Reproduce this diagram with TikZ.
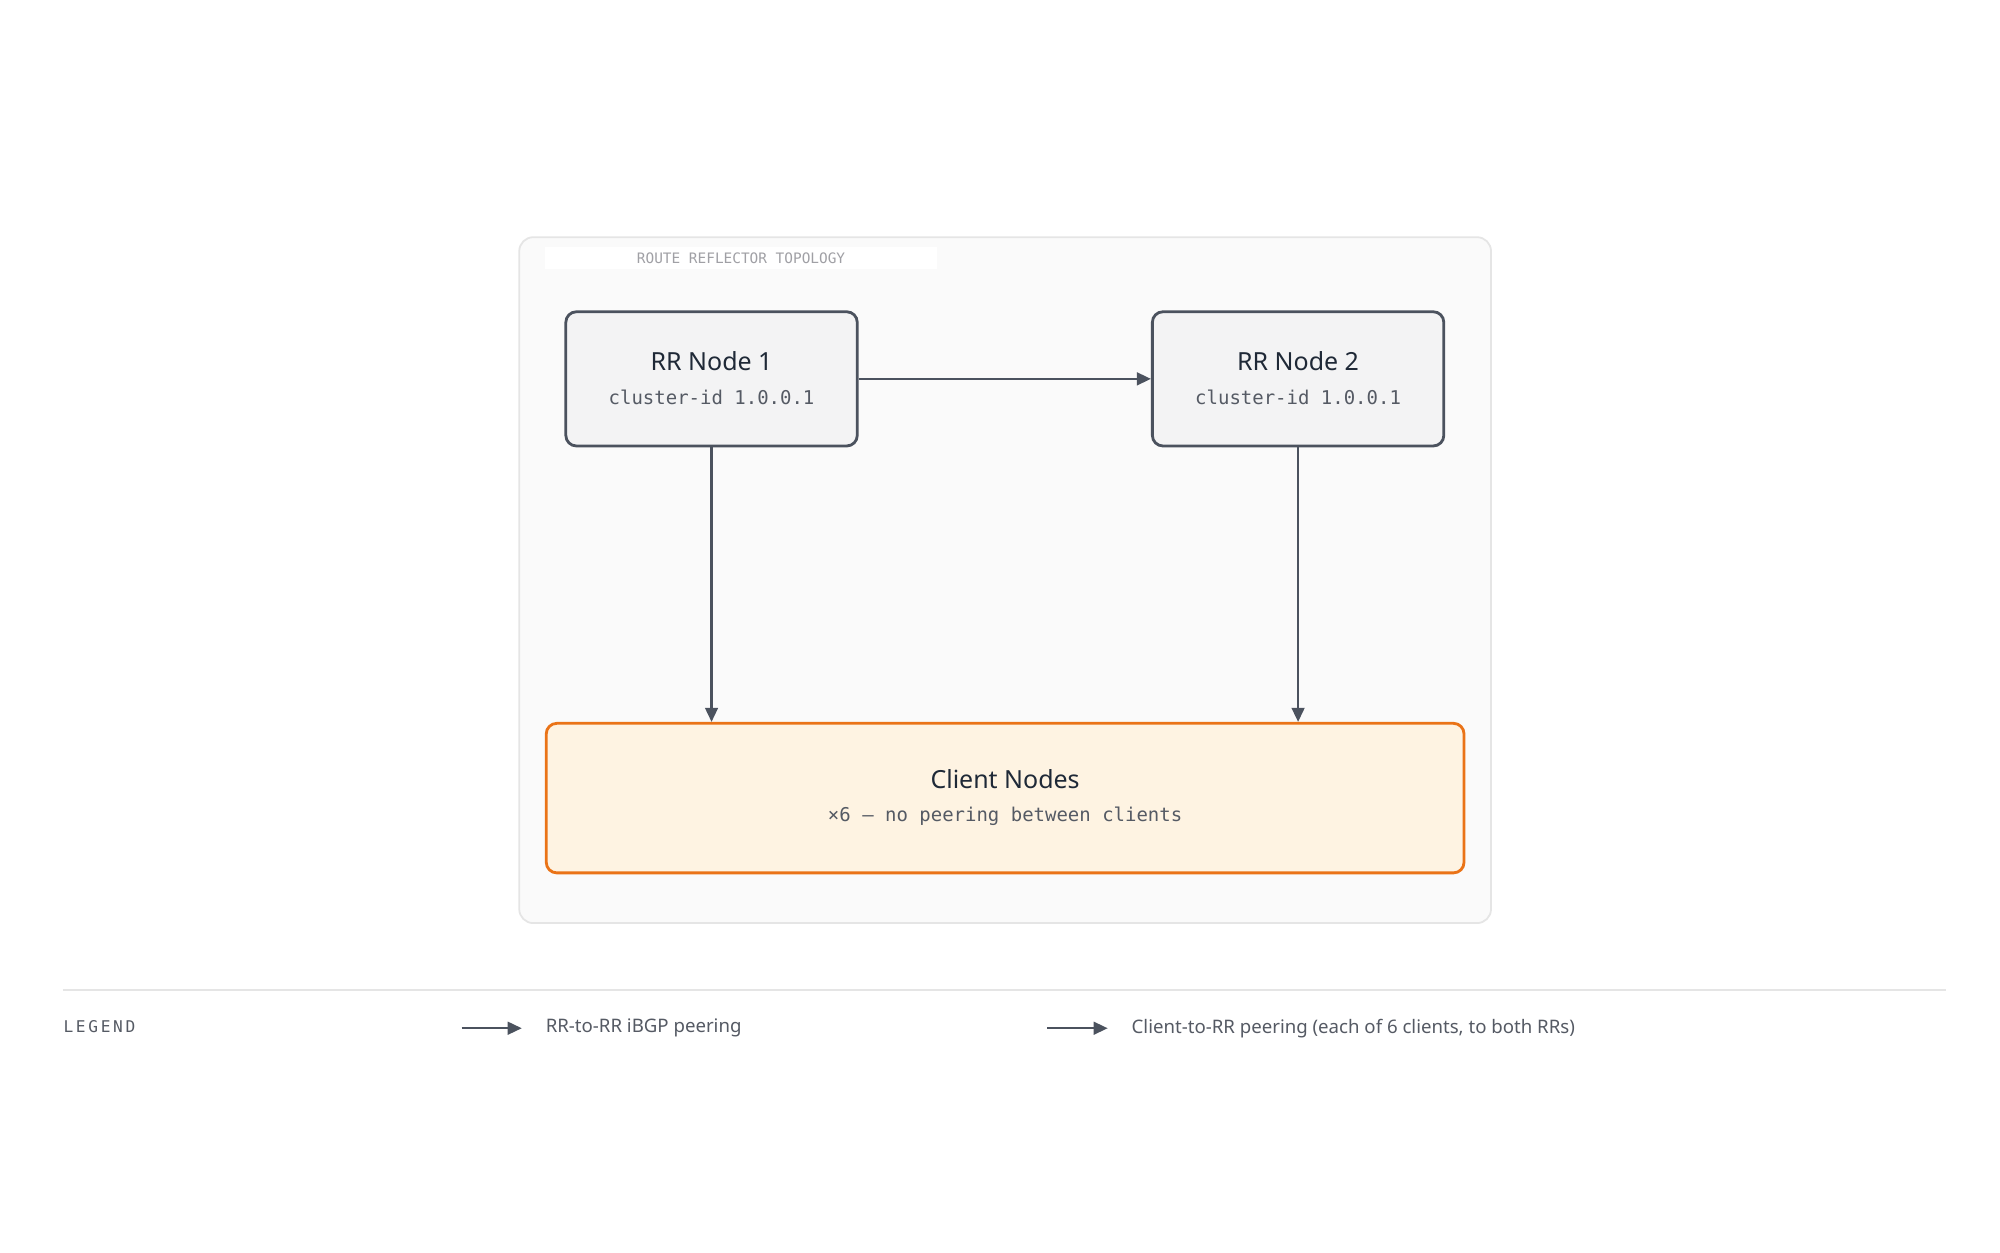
\documentclass[tikz,border=0pt]{standalone}
\usepackage{fontspec}
\setmainfont{Noto Sans}
\setmonofont{DejaVu Sans Mono}
\usetikzlibrary{arrows.meta,positioning}
\definecolor{framecol}{RGB}{229,229,229}
\definecolor{panelcol}{RGB}{250,250,250}
\definecolor{rrfill}{RGB}{243,243,244}
\definecolor{edgecol}{RGB}{75,82,94}
\definecolor{clientfill}{RGB}{254,243,226}
\definecolor{clientedge}{RGB}{234,115,23}
\definecolor{inkcol}{RGB}{31,41,55}
\definecolor{subcol}{RGB}{85,90,100}
\definecolor{faintcol}{RGB}{160,160,165}
\tikzset{
  rrnode/.style     = {draw=edgecol, fill=rrfill, line width=0.8pt, rounded corners=3pt,
                       minimum width=228\pxu, minimum height=105\pxu, align=center},
  clientnode/.style = {draw=clientedge, fill=clientfill, line width=0.8pt, rounded corners=3pt,
                       minimum width=718\pxu, minimum height=117\pxu, align=center},
  peer/.style       = {-{Triangle[length=4pt,width=3.6pt]}, draw=edgecol, line width=0.7pt},
  headfont/.style   = {font=\fontsize{7.1}{8}\selectfont\bfseries, text=inkcol},
  subfont/.style    = {font=\ttfamily\fontsize{5.4}{6}\selectfont, text=subcol},
  legtext/.style    = {font=\fontsize{5.3}{6}\selectfont, text=subcol, anchor=west}
}
\newcommand{\pxu}{*0.3636pt}
\begin{document}
\begin{tikzpicture}[x=0.01282cm,y=-0.01282cm]
\useasboundingbox[fill=white] (0,0) rectangle (1560,977);

% panel
\draw[draw=framecol, fill=panelcol, rounded corners=4pt, line width=0.5pt] (405,185) rectangle (1163,720);
\fill[white] (425,193) rectangle (731,210);
\node[font=\ttfamily\fontsize{4.1}{5}\selectfont, text=faintcol] (title) at (578,201.5) {ROUTE REFLECTOR TOPOLOGY};

% route reflectors
\node[rrnode] (rr1) at (555,295.5) {};
\node[headfont] at (555,282) {RR Node 1};
\node[subfont] at (555,310) {cluster-id 1.0.0.1};
\node[rrnode] (rr2) at (1012.5,295.5) {};
\node[headfont] at (1012.5,282) {RR Node 2};
\node[subfont] at (1012.5,310) {cluster-id 1.0.0.1};

% clients
\node[clientnode] (clients) at (784,622.5) {};
\node[headfont] at (784,608) {Client Nodes};
\node[subfont] at (784,637) {×6 — no peering between clients};

% peerings
\draw[peer] (rr1.east) -- (rr2.west);
\draw[peer] (rr1.south) -- (rr1.south |- clients.north);
\draw[peer] (rr2.south) -- (rr2.south |- clients.north);

% legend
\draw[framecol, line width=0.5pt] (49,772) -- (1518,772);
\node[font=\ttfamily\fontsize{4.6}{5}\selectfont, text=subcol, anchor=west, inner sep=0pt] (leg) at (49,801) {L\,E\,G\,E\,N\,D};
\coordinate (la1) at (360,802);
\coordinate (lb1) at (407,802);
\draw[peer] (la1) -- (lb1);
\node[legtext] (lt1) at (416,802) {RR-to-RR iBGP peering};
\coordinate (la2) at (817,802);
\coordinate (lb2) at (864,802);
\draw[peer] (la2) -- (lb2);
\node[legtext] (lt2) at (873,802) {Client-to-RR peering (each of 6 clients, to both RRs)};
\end{tikzpicture}
\end{document}
